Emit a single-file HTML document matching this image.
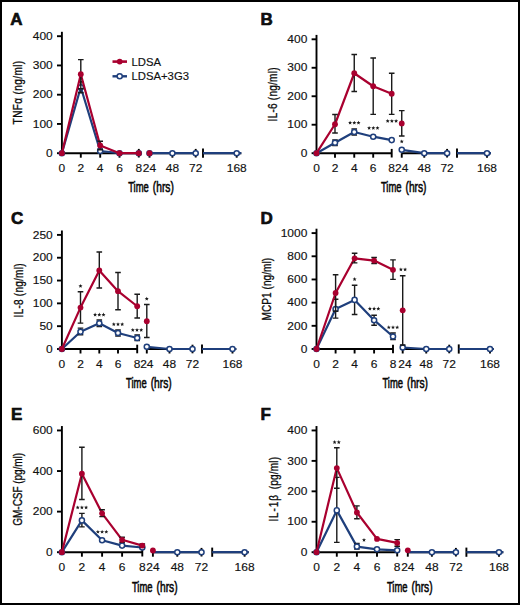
<!DOCTYPE html>
<html><head><meta charset="utf-8"><style>
html,body{margin:0;padding:0;background:#fff;}
svg{display:block;}
text{font-family:"Liberation Sans",sans-serif;fill:#111;}
.let{font-size:17px;font-weight:bold;stroke:#000;stroke-width:0.6px;}
.tk{font-size:11.2px;stroke:#111;stroke-width:0.15px;}
.lab{font-size:13.8px;stroke:#000;stroke-width:0.55px;}
.ylab{font-size:13.6px;stroke:#000;stroke-width:0.3px;}
.leg{font-size:11.3px;stroke:#111;stroke-width:0.15px;}
.ax{stroke:#000;stroke-width:1.9;}
.eb{stroke:#1a1a1a;stroke-width:1.4;fill:none;}
</style></head><body>
<svg width="520" height="605" viewBox="0 0 520 605">
<rect x="1" y="1" width="518" height="603" fill="#fff" stroke="#000" stroke-width="2"/>
<text x="10.3" y="25" class="let">A</text>
<line x1="61.9" y1="31.8" x2="61.9" y2="154.1" class="ax"/>
<line x1="57" y1="153.2" x2="61.9" y2="153.2" class="ax"/>
<text x="0" y="0" class="tk" text-anchor="end" transform="translate(52.7,156.9) scale(1.07,1)">0</text>
<line x1="57" y1="123.95" x2="61.9" y2="123.95" class="ax"/>
<text x="0" y="0" class="tk" text-anchor="end" transform="translate(52.7,127.65) scale(1.07,1)">100</text>
<line x1="57" y1="94.7" x2="61.9" y2="94.7" class="ax"/>
<text x="0" y="0" class="tk" text-anchor="end" transform="translate(52.7,98.4) scale(1.07,1)">200</text>
<line x1="57" y1="65.45" x2="61.9" y2="65.45" class="ax"/>
<text x="0" y="0" class="tk" text-anchor="end" transform="translate(52.7,69.15) scale(1.07,1)">300</text>
<line x1="57" y1="36.2" x2="61.9" y2="36.2" class="ax"/>
<text x="0" y="0" class="tk" text-anchor="end" transform="translate(52.7,39.9) scale(1.07,1)">400</text>
<line x1="61.2" y1="153.2" x2="138.8" y2="153.2" class="ax"/>
<line x1="138.8" y1="148.9" x2="138.8" y2="157.5" class="ax"/>
<line x1="149.5" y1="153.2" x2="195.7" y2="153.2" class="ax"/>
<line x1="195.7" y1="148.9" x2="195.7" y2="157.5" class="ax"/>
<line x1="203" y1="153.2" x2="241.3" y2="153.2" class="ax"/>
<line x1="203" y1="148.6" x2="203" y2="157.8" class="ax"/>
<line x1="80.8" y1="153.2" x2="80.8" y2="157.7" class="ax"/>
<line x1="100.2" y1="153.2" x2="100.2" y2="157.7" class="ax"/>
<line x1="119.5" y1="153.2" x2="119.5" y2="157.7" class="ax"/>
<line x1="149.5" y1="153.2" x2="149.5" y2="157.7" class="ax"/>
<line x1="172.4" y1="153.2" x2="172.4" y2="157.7" class="ax"/>
<line x1="236.7" y1="153.2" x2="236.7" y2="157.7" class="ax"/>
<text class="tk" text-anchor="middle" transform="translate(61.9,172.4) scale(1.07,1)">0</text>
<text class="tk" text-anchor="middle" transform="translate(80.8,172.4) scale(1.07,1)">2</text>
<text class="tk" text-anchor="middle" transform="translate(100.2,172.4) scale(1.07,1)">4</text>
<text class="tk" text-anchor="middle" transform="translate(119.5,172.4) scale(1.07,1)">6</text>
<text class="tk" text-anchor="middle" transform="translate(138.8,172.4) scale(1.07,1)">8</text>
<text class="tk" text-anchor="middle" transform="translate(149.5,172.4) scale(1.07,1)">24</text>
<text class="tk" text-anchor="middle" transform="translate(172.4,172.4) scale(1.07,1)">48</text>
<text class="tk" text-anchor="middle" transform="translate(195.7,172.4) scale(1.07,1)">72</text>
<text class="tk" text-anchor="middle" transform="translate(236.7,172.4) scale(1.07,1)">168</text>
<text class="lab" x="128.2" y="191.85" textLength="20.6" lengthAdjust="spacingAndGlyphs">Time</text>
<text class="lab" x="152.8" y="191.85" textLength="21" lengthAdjust="spacingAndGlyphs">(hrs)</text>
<text class="ylab" x="0" y="0" text-anchor="middle" textLength="85.81" lengthAdjust="spacing" transform="translate(21.9,92.65) rotate(-90) scale(0.74,1)">TNFα (ng/ml)</text>
<polyline points="61.9,153.2 80.8,87.3 100.2,151 119.5,153.2 138.8,153.2" fill="none" stroke="#1f3f7c" stroke-width="2.2" stroke-linejoin="round"/>
<path d="M80.8 81.8V92.8M78 81.8H83.6M78 92.8H83.6" class="eb"/>
<path d="M100.2 149V153M97.4 149H103M97.4 153H103" class="eb"/>
<circle cx="61.9" cy="153.2" r="2.55" fill="#fff" stroke="#1f3f7c" stroke-width="1.5"/>
<circle cx="80.8" cy="87.3" r="2.55" fill="#fff" stroke="#1f3f7c" stroke-width="1.5"/>
<circle cx="100.2" cy="151" r="2.55" fill="#fff" stroke="#1f3f7c" stroke-width="1.5"/>
<circle cx="119.5" cy="153.2" r="2.55" fill="#fff" stroke="#1f3f7c" stroke-width="1.5"/>
<circle cx="138.8" cy="153.2" r="2.55" fill="#fff" stroke="#1f3f7c" stroke-width="1.5"/>
<polyline points="61.9,153.2 80.8,74.2 100.2,145.5 119.5,153.2 138.8,153.2" fill="none" stroke="#a9002f" stroke-width="2.2" stroke-linejoin="round"/>
<path d="M80.8 59.6V88.8M78 59.6H83.6M78 88.8H83.6" class="eb"/>
<path d="M100.2 141.3V149.7M97.4 141.3H103M97.4 149.7H103" class="eb"/>
<circle cx="61.9" cy="153.2" r="2.9" fill="#a9002f"/>
<circle cx="80.8" cy="74.2" r="2.9" fill="#a9002f"/>
<circle cx="100.2" cy="145.5" r="2.9" fill="#a9002f"/>
<circle cx="119.5" cy="153.2" r="2.9" fill="#a9002f"/>
<circle cx="138.8" cy="153.2" r="2.9" fill="#a9002f"/>
<polyline points="149.5,153.2 172.4,153.2 195.7,153.2" fill="none" stroke="#1f3f7c" stroke-width="2.2" stroke-linejoin="round"/>
<circle cx="149.5" cy="153.2" r="2.55" fill="#fff" stroke="#1f3f7c" stroke-width="1.5"/>
<circle cx="172.4" cy="153.2" r="2.55" fill="#fff" stroke="#1f3f7c" stroke-width="1.5"/>
<circle cx="195.7" cy="153.2" r="2.55" fill="#fff" stroke="#1f3f7c" stroke-width="1.5"/>
<circle cx="149.5" cy="153.2" r="2.9" fill="#a9002f"/>
<polyline points="203,153.2 241.3,153.2" fill="none" stroke="#1f3f7c" stroke-width="2.2"/>
<circle cx="236.7" cy="153.2" r="2.55" fill="#fff" stroke="#1f3f7c" stroke-width="1.5"/>
<line x1="112.5" y1="61.6" x2="127" y2="61.6" stroke="#a9002f" stroke-width="2.6"/>
<circle cx="119.7" cy="61.6" r="2.9" fill="#a9002f"/>
<line x1="112.5" y1="76.3" x2="127" y2="76.3" stroke="#1f3f7c" stroke-width="2.4"/>
<circle cx="119.7" cy="76.3" r="2.55" fill="#fff" stroke="#1f3f7c" stroke-width="1.5"/>
<text x="131.5" y="65.6" class="leg">LDSA</text>
<text x="131.5" y="80.3" class="leg">LDSA+3G3</text>
<text x="260.5" y="25" class="let">B</text>
<line x1="316.5" y1="34.9" x2="316.5" y2="154.1" class="ax"/>
<line x1="311.6" y1="153.2" x2="316.5" y2="153.2" class="ax"/>
<text x="0" y="0" class="tk" text-anchor="end" transform="translate(307.3,156.9) scale(1.07,1)">0</text>
<line x1="311.6" y1="124.72" x2="316.5" y2="124.72" class="ax"/>
<text x="0" y="0" class="tk" text-anchor="end" transform="translate(307.3,128.42) scale(1.07,1)">100</text>
<line x1="311.6" y1="96.25" x2="316.5" y2="96.25" class="ax"/>
<text x="0" y="0" class="tk" text-anchor="end" transform="translate(307.3,99.95) scale(1.07,1)">200</text>
<line x1="311.6" y1="67.77" x2="316.5" y2="67.77" class="ax"/>
<text x="0" y="0" class="tk" text-anchor="end" transform="translate(307.3,71.47) scale(1.07,1)">300</text>
<line x1="311.6" y1="39.3" x2="316.5" y2="39.3" class="ax"/>
<text x="0" y="0" class="tk" text-anchor="end" transform="translate(307.3,43) scale(1.07,1)">400</text>
<line x1="315.8" y1="153.2" x2="391.7" y2="153.2" class="ax"/>
<line x1="391.7" y1="148.9" x2="391.7" y2="157.5" class="ax"/>
<line x1="401.75" y1="153.2" x2="447.1" y2="153.2" class="ax"/>
<line x1="447.1" y1="148.9" x2="447.1" y2="157.5" class="ax"/>
<line x1="457" y1="153.2" x2="491" y2="153.2" class="ax"/>
<line x1="457" y1="148.6" x2="457" y2="157.8" class="ax"/>
<line x1="335" y1="153.2" x2="335" y2="157.7" class="ax"/>
<line x1="354.25" y1="153.2" x2="354.25" y2="157.7" class="ax"/>
<line x1="373.2" y1="153.2" x2="373.2" y2="157.7" class="ax"/>
<line x1="401.75" y1="153.2" x2="401.75" y2="157.7" class="ax"/>
<line x1="424.25" y1="153.2" x2="424.25" y2="157.7" class="ax"/>
<line x1="487" y1="153.2" x2="487" y2="157.7" class="ax"/>
<text class="tk" text-anchor="middle" transform="translate(316.5,172.4) scale(1.07,1)">0</text>
<text class="tk" text-anchor="middle" transform="translate(335,172.4) scale(1.07,1)">2</text>
<text class="tk" text-anchor="middle" transform="translate(354.25,172.4) scale(1.07,1)">4</text>
<text class="tk" text-anchor="middle" transform="translate(373.2,172.4) scale(1.07,1)">6</text>
<text class="tk" text-anchor="middle" transform="translate(391.7,172.4) scale(1.07,1)">8</text>
<text class="tk" text-anchor="middle" transform="translate(401.75,172.4) scale(1.07,1)">24</text>
<text class="tk" text-anchor="middle" transform="translate(424.25,172.4) scale(1.07,1)">48</text>
<text class="tk" text-anchor="middle" transform="translate(447.1,172.4) scale(1.07,1)">72</text>
<text class="tk" text-anchor="middle" transform="translate(487,172.4) scale(1.07,1)">168</text>
<text class="lab" x="380.9" y="192.3" textLength="20.6" lengthAdjust="spacingAndGlyphs">Time</text>
<text class="lab" x="405.5" y="192.3" textLength="21" lengthAdjust="spacingAndGlyphs">(hrs)</text>
<text class="ylab" x="0" y="0" text-anchor="middle" textLength="72.84" lengthAdjust="spacing" transform="translate(277,94.45) rotate(-90) scale(0.74,1)">IL-6 (ng/ml)</text>
<polyline points="316.5,153.2 335,142.75 354.25,132 373.2,136.7 391.7,140.1" fill="none" stroke="#1f3f7c" stroke-width="2.2" stroke-linejoin="round"/>
<path d="M335 140V145.5M332.2 140H337.8M332.2 145.5H337.8" class="eb"/>
<path d="M354.25 129V135M351.45 129H357.05M351.45 135H357.05" class="eb"/>
<circle cx="316.5" cy="153.2" r="2.55" fill="#fff" stroke="#1f3f7c" stroke-width="1.5"/>
<circle cx="335" cy="142.75" r="2.55" fill="#fff" stroke="#1f3f7c" stroke-width="1.5"/>
<circle cx="354.25" cy="132" r="2.55" fill="#fff" stroke="#1f3f7c" stroke-width="1.5"/>
<circle cx="373.2" cy="136.7" r="2.55" fill="#fff" stroke="#1f3f7c" stroke-width="1.5"/>
<circle cx="391.7" cy="140.1" r="2.55" fill="#fff" stroke="#1f3f7c" stroke-width="1.5"/>
<polyline points="316.5,153.2 335,124.25 354.25,73.25 373.2,86.25 391.7,93.75" fill="none" stroke="#a9002f" stroke-width="2.2" stroke-linejoin="round"/>
<path d="M335 114.5V133M332.2 114.5H337.8M332.2 133H337.8" class="eb"/>
<path d="M354.25 54.5V91.5M351.45 54.5H357.05M351.45 91.5H357.05" class="eb"/>
<path d="M373.2 58V114.4M370.4 58H376M370.4 114.4H376" class="eb"/>
<path d="M391.7 73.25V114.4M388.9 73.25H394.5M388.9 114.4H394.5" class="eb"/>
<circle cx="316.5" cy="153.2" r="2.9" fill="#a9002f"/>
<circle cx="335" cy="124.25" r="2.9" fill="#a9002f"/>
<circle cx="354.25" cy="73.25" r="2.9" fill="#a9002f"/>
<circle cx="373.2" cy="86.25" r="2.9" fill="#a9002f"/>
<circle cx="391.7" cy="93.75" r="2.9" fill="#a9002f"/>
<polyline points="401.75,149.8 424.25,153.2 447.1,153.2" fill="none" stroke="#1f3f7c" stroke-width="2.2" stroke-linejoin="round"/>
<circle cx="401.75" cy="149.8" r="2.55" fill="#fff" stroke="#1f3f7c" stroke-width="1.5"/>
<circle cx="424.25" cy="153.2" r="2.55" fill="#fff" stroke="#1f3f7c" stroke-width="1.5"/>
<circle cx="447.1" cy="153.2" r="2.55" fill="#fff" stroke="#1f3f7c" stroke-width="1.5"/>
<path d="M401.75 110.6V136M398.95 110.6H404.55M398.95 136H404.55" class="eb"/>
<circle cx="401.75" cy="123.4" r="2.9" fill="#a9002f"/>
<polyline points="457,153.2 491,153.2" fill="none" stroke="#1f3f7c" stroke-width="2.2"/>
<circle cx="487" cy="153.2" r="2.55" fill="#fff" stroke="#1f3f7c" stroke-width="1.5"/>
<polygon points="350.1,120.65 350.66,121.99 352.1,122.1 351,123.04 351.33,124.45 350.1,123.69 348.87,124.45 349.2,123.04 348.1,122.1 349.54,121.99" fill="#1a1a1a"/>
<polygon points="354.3,120.65 354.86,121.99 356.3,122.1 355.2,123.04 355.53,124.45 354.3,123.69 353.07,124.45 353.4,123.04 352.3,122.1 353.74,121.99" fill="#1a1a1a"/>
<polygon points="358.5,120.65 359.06,121.99 360.5,122.1 359.4,123.04 359.73,124.45 358.5,123.69 357.27,124.45 357.6,123.04 356.5,122.1 357.94,121.99" fill="#1a1a1a"/>
<polygon points="369.1,125.9 369.66,127.24 371.1,127.35 370,128.29 370.33,129.7 369.1,128.94 367.87,129.7 368.2,128.29 367.1,127.35 368.54,127.24" fill="#1a1a1a"/>
<polygon points="373.3,125.9 373.86,127.24 375.3,127.35 374.2,128.29 374.53,129.7 373.3,128.94 372.07,129.7 372.4,128.29 371.3,127.35 372.74,127.24" fill="#1a1a1a"/>
<polygon points="377.5,125.9 378.06,127.24 379.5,127.35 378.4,128.29 378.73,129.7 377.5,128.94 376.27,129.7 376.6,128.29 375.5,127.35 376.94,127.24" fill="#1a1a1a"/>
<polygon points="387.7,119 388.26,120.34 389.7,120.45 388.6,121.39 388.93,122.8 387.7,122.04 386.47,122.8 386.8,121.39 385.7,120.45 387.14,120.34" fill="#1a1a1a"/>
<polygon points="391.9,119 392.46,120.34 393.9,120.45 392.8,121.39 393.13,122.8 391.9,122.04 390.67,122.8 391,121.39 389.9,120.45 391.34,120.34" fill="#1a1a1a"/>
<polygon points="396.1,119 396.66,120.34 398.1,120.45 397,121.39 397.33,122.8 396.1,122.04 394.87,122.8 395.2,121.39 394.1,120.45 395.54,120.34" fill="#1a1a1a"/>
<polygon points="401.75,139.4 402.31,140.74 403.75,140.85 402.65,141.79 402.98,143.2 401.75,142.44 400.52,143.2 400.85,141.79 399.75,140.85 401.19,140.74" fill="#1a1a1a"/>
<text x="11" y="224.3" class="let">C</text>
<line x1="61.9" y1="230.5" x2="61.9" y2="349.9" class="ax"/>
<line x1="57" y1="349" x2="61.9" y2="349" class="ax"/>
<text x="0" y="0" class="tk" text-anchor="end" transform="translate(52.7,352.7) scale(1.07,1)">0</text>
<line x1="57" y1="326.18" x2="61.9" y2="326.18" class="ax"/>
<text x="0" y="0" class="tk" text-anchor="end" transform="translate(52.7,329.88) scale(1.07,1)">50</text>
<line x1="57" y1="303.36" x2="61.9" y2="303.36" class="ax"/>
<text x="0" y="0" class="tk" text-anchor="end" transform="translate(52.7,307.06) scale(1.07,1)">100</text>
<line x1="57" y1="280.54" x2="61.9" y2="280.54" class="ax"/>
<text x="0" y="0" class="tk" text-anchor="end" transform="translate(52.7,284.24) scale(1.07,1)">150</text>
<line x1="57" y1="257.72" x2="61.9" y2="257.72" class="ax"/>
<text x="0" y="0" class="tk" text-anchor="end" transform="translate(52.7,261.42) scale(1.07,1)">200</text>
<line x1="57" y1="234.9" x2="61.9" y2="234.9" class="ax"/>
<text x="0" y="0" class="tk" text-anchor="end" transform="translate(52.7,238.6) scale(1.07,1)">250</text>
<line x1="61.2" y1="349" x2="137.2" y2="349" class="ax"/>
<line x1="137.2" y1="344.7" x2="137.2" y2="353.3" class="ax"/>
<line x1="146.8" y1="349" x2="192.5" y2="349" class="ax"/>
<line x1="192.5" y1="344.7" x2="192.5" y2="353.3" class="ax"/>
<line x1="202" y1="349" x2="236.3" y2="349" class="ax"/>
<line x1="202" y1="344.4" x2="202" y2="353.6" class="ax"/>
<line x1="80.5" y1="349" x2="80.5" y2="353.5" class="ax"/>
<line x1="99.3" y1="349" x2="99.3" y2="353.5" class="ax"/>
<line x1="118" y1="349" x2="118" y2="353.5" class="ax"/>
<line x1="146.8" y1="349" x2="146.8" y2="353.5" class="ax"/>
<line x1="169.5" y1="349" x2="169.5" y2="353.5" class="ax"/>
<line x1="232.5" y1="349" x2="232.5" y2="353.5" class="ax"/>
<text class="tk" text-anchor="middle" transform="translate(61.9,368.2) scale(1.07,1)">0</text>
<text class="tk" text-anchor="middle" transform="translate(80.5,368.2) scale(1.07,1)">2</text>
<text class="tk" text-anchor="middle" transform="translate(99.3,368.2) scale(1.07,1)">4</text>
<text class="tk" text-anchor="middle" transform="translate(118,368.2) scale(1.07,1)">6</text>
<text class="tk" text-anchor="middle" transform="translate(137.2,368.2) scale(1.07,1)">8</text>
<text class="tk" text-anchor="middle" transform="translate(146.8,368.2) scale(1.07,1)">24</text>
<text class="tk" text-anchor="middle" transform="translate(169.5,368.2) scale(1.07,1)">48</text>
<text class="tk" text-anchor="middle" transform="translate(192.5,368.2) scale(1.07,1)">72</text>
<text class="tk" text-anchor="middle" transform="translate(232.5,368.2) scale(1.07,1)">168</text>
<text class="lab" x="126.05" y="387.9" textLength="20.6" lengthAdjust="spacingAndGlyphs">Time</text>
<text class="lab" x="150.65" y="387.9" textLength="21" lengthAdjust="spacingAndGlyphs">(hrs)</text>
<text class="ylab" x="0" y="0" text-anchor="middle" textLength="72.84" lengthAdjust="spacing" transform="translate(22.5,290.45) rotate(-90) scale(0.74,1)">IL-8 (ng/ml)</text>
<polyline points="61.9,349 80.5,331.7 99.3,323.2 118,333 137.2,338" fill="none" stroke="#1f3f7c" stroke-width="2.2" stroke-linejoin="round"/>
<path d="M80.5 328.1V334.7M77.7 328.1H83.3M77.7 334.7H83.3" class="eb"/>
<path d="M99.3 320V326.5M96.5 320H102.1M96.5 326.5H102.1" class="eb"/>
<path d="M118 330V336M115.2 330H120.8M115.2 336H120.8" class="eb"/>
<path d="M137.2 335V340.5M134.4 335H140M134.4 340.5H140" class="eb"/>
<circle cx="61.9" cy="349" r="2.55" fill="#fff" stroke="#1f3f7c" stroke-width="1.5"/>
<circle cx="80.5" cy="331.7" r="2.55" fill="#fff" stroke="#1f3f7c" stroke-width="1.5"/>
<circle cx="99.3" cy="323.2" r="2.55" fill="#fff" stroke="#1f3f7c" stroke-width="1.5"/>
<circle cx="118" cy="333" r="2.55" fill="#fff" stroke="#1f3f7c" stroke-width="1.5"/>
<circle cx="137.2" cy="338" r="2.55" fill="#fff" stroke="#1f3f7c" stroke-width="1.5"/>
<polyline points="61.9,349 80.5,307.6 99.3,270.5 118,291.2 137.2,306.25" fill="none" stroke="#a9002f" stroke-width="2.2" stroke-linejoin="round"/>
<path d="M80.5 291.8V323.1M77.7 291.8H83.3M77.7 323.1H83.3" class="eb"/>
<path d="M99.3 252V288M96.5 252H102.1M96.5 288H102.1" class="eb"/>
<path d="M118 272.5V309.7M115.2 272.5H120.8M115.2 309.7H120.8" class="eb"/>
<path d="M137.2 294.25V318M134.4 294.25H140M134.4 318H140" class="eb"/>
<circle cx="61.9" cy="349" r="2.9" fill="#a9002f"/>
<circle cx="80.5" cy="307.6" r="2.9" fill="#a9002f"/>
<circle cx="99.3" cy="270.5" r="2.9" fill="#a9002f"/>
<circle cx="118" cy="291.2" r="2.9" fill="#a9002f"/>
<circle cx="137.2" cy="306.25" r="2.9" fill="#a9002f"/>
<polyline points="146.8,346.8 169.5,349 192.5,349" fill="none" stroke="#1f3f7c" stroke-width="2.2" stroke-linejoin="round"/>
<circle cx="146.8" cy="346.8" r="2.55" fill="#fff" stroke="#1f3f7c" stroke-width="1.5"/>
<circle cx="169.5" cy="349" r="2.55" fill="#fff" stroke="#1f3f7c" stroke-width="1.5"/>
<circle cx="192.5" cy="349" r="2.55" fill="#fff" stroke="#1f3f7c" stroke-width="1.5"/>
<path d="M146.8 304.5V337.5M144 304.5H149.6M144 337.5H149.6" class="eb"/>
<circle cx="146.8" cy="321.25" r="2.9" fill="#a9002f"/>
<polyline points="202,349 236.3,349" fill="none" stroke="#1f3f7c" stroke-width="2.2"/>
<circle cx="232.5" cy="349" r="2.55" fill="#fff" stroke="#1f3f7c" stroke-width="1.5"/>
<polygon points="80.5,284 81.06,285.34 82.5,285.45 81.4,286.39 81.73,287.8 80.5,287.05 79.27,287.8 79.6,286.39 78.5,285.45 79.94,285.34" fill="#1a1a1a"/>
<polygon points="95.1,312.6 95.66,313.94 97.1,314.05 96,314.99 96.33,316.4 95.1,315.64 93.87,316.4 94.2,314.99 93.1,314.05 94.54,313.94" fill="#1a1a1a"/>
<polygon points="99.3,312.6 99.86,313.94 101.3,314.05 100.2,314.99 100.53,316.4 99.3,315.64 98.07,316.4 98.4,314.99 97.3,314.05 98.74,313.94" fill="#1a1a1a"/>
<polygon points="103.5,312.6 104.06,313.94 105.5,314.05 104.4,314.99 104.73,316.4 103.5,315.64 102.27,316.4 102.6,314.99 101.5,314.05 102.94,313.94" fill="#1a1a1a"/>
<polygon points="113.8,322.2 114.36,323.54 115.8,323.65 114.7,324.59 115.03,326 113.8,325.25 112.57,326 112.9,324.59 111.8,323.65 113.24,323.54" fill="#1a1a1a"/>
<polygon points="118,322.2 118.56,323.54 120,323.65 118.9,324.59 119.23,326 118,325.25 116.77,326 117.1,324.59 116,323.65 117.44,323.54" fill="#1a1a1a"/>
<polygon points="122.2,322.2 122.76,323.54 124.2,323.65 123.1,324.59 123.43,326 122.2,325.25 120.97,326 121.3,324.59 120.2,323.65 121.64,323.54" fill="#1a1a1a"/>
<polygon points="132.8,327.9 133.36,329.24 134.8,329.35 133.7,330.29 134.03,331.7 132.8,330.94 131.57,331.7 131.9,330.29 130.8,329.35 132.24,329.24" fill="#1a1a1a"/>
<polygon points="137,327.9 137.56,329.24 139,329.35 137.9,330.29 138.23,331.7 137,330.94 135.77,331.7 136.1,330.29 135,329.35 136.44,329.24" fill="#1a1a1a"/>
<polygon points="141.2,327.9 141.76,329.24 143.2,329.35 142.1,330.29 142.43,331.7 141.2,330.94 139.97,331.7 140.3,330.29 139.2,329.35 140.64,329.24" fill="#1a1a1a"/>
<polygon points="146.75,296.65 147.31,297.99 148.75,298.1 147.65,299.04 147.98,300.45 146.75,299.69 145.52,300.45 145.85,299.04 144.75,298.1 146.19,297.99" fill="#1a1a1a"/>
<text x="260.5" y="224.3" class="let">D</text>
<line x1="316.5" y1="228.7" x2="316.5" y2="349.9" class="ax"/>
<line x1="311.6" y1="349" x2="316.5" y2="349" class="ax"/>
<text x="0" y="0" class="tk" text-anchor="end" transform="translate(307.3,352.7) scale(1.07,1)">0</text>
<line x1="311.6" y1="325.82" x2="316.5" y2="325.82" class="ax"/>
<text x="0" y="0" class="tk" text-anchor="end" transform="translate(307.3,329.52) scale(1.07,1)">200</text>
<line x1="311.6" y1="302.64" x2="316.5" y2="302.64" class="ax"/>
<text x="0" y="0" class="tk" text-anchor="end" transform="translate(307.3,306.34) scale(1.07,1)">400</text>
<line x1="311.6" y1="279.46" x2="316.5" y2="279.46" class="ax"/>
<text x="0" y="0" class="tk" text-anchor="end" transform="translate(307.3,283.16) scale(1.07,1)">600</text>
<line x1="311.6" y1="256.28" x2="316.5" y2="256.28" class="ax"/>
<text x="0" y="0" class="tk" text-anchor="end" transform="translate(307.3,259.98) scale(1.07,1)">800</text>
<line x1="311.6" y1="233.1" x2="316.5" y2="233.1" class="ax"/>
<text x="0" y="0" class="tk" text-anchor="end" transform="translate(307.3,236.8) scale(1.07,1)">1000</text>
<line x1="315.8" y1="349" x2="393" y2="349" class="ax"/>
<line x1="393" y1="344.7" x2="393" y2="353.3" class="ax"/>
<line x1="402.7" y1="349" x2="449.25" y2="349" class="ax"/>
<line x1="449.25" y1="344.7" x2="449.25" y2="353.3" class="ax"/>
<line x1="458.75" y1="349" x2="493.75" y2="349" class="ax"/>
<line x1="458.75" y1="344.4" x2="458.75" y2="353.6" class="ax"/>
<line x1="335.6" y1="349" x2="335.6" y2="353.5" class="ax"/>
<line x1="354.6" y1="349" x2="354.6" y2="353.5" class="ax"/>
<line x1="374.1" y1="349" x2="374.1" y2="353.5" class="ax"/>
<line x1="402.7" y1="349" x2="402.7" y2="353.5" class="ax"/>
<line x1="426.25" y1="349" x2="426.25" y2="353.5" class="ax"/>
<line x1="490" y1="349" x2="490" y2="353.5" class="ax"/>
<text class="tk" text-anchor="middle" transform="translate(316.5,368.2) scale(1.07,1)">0</text>
<text class="tk" text-anchor="middle" transform="translate(335.6,368.2) scale(1.07,1)">2</text>
<text class="tk" text-anchor="middle" transform="translate(354.6,368.2) scale(1.07,1)">4</text>
<text class="tk" text-anchor="middle" transform="translate(374.1,368.2) scale(1.07,1)">6</text>
<text class="tk" text-anchor="middle" transform="translate(393,368.2) scale(1.07,1)">8</text>
<text class="tk" text-anchor="middle" transform="translate(405,368.2) scale(1.07,1)">24</text>
<text class="tk" text-anchor="middle" transform="translate(426.25,368.2) scale(1.07,1)">48</text>
<text class="tk" text-anchor="middle" transform="translate(449.25,368.2) scale(1.07,1)">72</text>
<text class="tk" text-anchor="middle" transform="translate(490,368.2) scale(1.07,1)">168</text>
<text class="lab" x="382.4" y="387.9" textLength="20.6" lengthAdjust="spacingAndGlyphs">Time</text>
<text class="lab" x="407" y="387.9" textLength="21" lengthAdjust="spacingAndGlyphs">(hrs)</text>
<text class="ylab" x="0" y="0" text-anchor="middle" textLength="84.32" lengthAdjust="spacing" transform="translate(270.9,289.2) rotate(-90) scale(0.74,1)">MCP1 (ng/ml)</text>
<polyline points="316.5,349 335.6,309 354.6,299.9 374.1,320.2 393,336.5" fill="none" stroke="#1f3f7c" stroke-width="2.2" stroke-linejoin="round"/>
<path d="M335.6 299.3V318.1M332.8 299.3H338.4M332.8 318.1H338.4" class="eb"/>
<path d="M354.6 285.2V314.5M351.8 285.2H357.4M351.8 314.5H357.4" class="eb"/>
<path d="M374.1 315.3V325.2M371.3 315.3H376.9M371.3 325.2H376.9" class="eb"/>
<path d="M393 333V339.5M390.2 333H395.8M390.2 339.5H395.8" class="eb"/>
<circle cx="316.5" cy="349" r="2.55" fill="#fff" stroke="#1f3f7c" stroke-width="1.5"/>
<circle cx="335.6" cy="309" r="2.55" fill="#fff" stroke="#1f3f7c" stroke-width="1.5"/>
<circle cx="354.6" cy="299.9" r="2.55" fill="#fff" stroke="#1f3f7c" stroke-width="1.5"/>
<circle cx="374.1" cy="320.2" r="2.55" fill="#fff" stroke="#1f3f7c" stroke-width="1.5"/>
<circle cx="393" cy="336.5" r="2.55" fill="#fff" stroke="#1f3f7c" stroke-width="1.5"/>
<polyline points="316.5,349 335.6,293 354.6,258.3 374.1,260.6 393,269.8" fill="none" stroke="#a9002f" stroke-width="2.2" stroke-linejoin="round"/>
<path d="M335.6 274.8V311.2M332.8 274.8H338.4M332.8 311.2H338.4" class="eb"/>
<path d="M354.6 253.3V262.9M351.8 253.3H357.4M351.8 262.9H357.4" class="eb"/>
<path d="M374.1 257.5V263.5M371.3 257.5H376.9M371.3 263.5H376.9" class="eb"/>
<path d="M393 259.9V279.4M390.2 259.9H395.8M390.2 279.4H395.8" class="eb"/>
<circle cx="316.5" cy="349" r="2.9" fill="#a9002f"/>
<circle cx="335.6" cy="293" r="2.9" fill="#a9002f"/>
<circle cx="354.6" cy="258.3" r="2.9" fill="#a9002f"/>
<circle cx="374.1" cy="260.6" r="2.9" fill="#a9002f"/>
<circle cx="393" cy="269.8" r="2.9" fill="#a9002f"/>
<polyline points="402.7,347.5 426.25,349 449.25,349" fill="none" stroke="#1f3f7c" stroke-width="2.2" stroke-linejoin="round"/>
<circle cx="402.7" cy="347.5" r="2.55" fill="#fff" stroke="#1f3f7c" stroke-width="1.5"/>
<circle cx="426.25" cy="349" r="2.55" fill="#fff" stroke="#1f3f7c" stroke-width="1.5"/>
<circle cx="449.25" cy="349" r="2.55" fill="#fff" stroke="#1f3f7c" stroke-width="1.5"/>
<path d="M402.7 275.75V345M399.9 275.75H405.5M399.9 345H405.5" class="eb"/>
<circle cx="402.7" cy="310.3" r="2.9" fill="#a9002f"/>
<polyline points="458.75,349 493.75,349" fill="none" stroke="#1f3f7c" stroke-width="2.2"/>
<circle cx="490" cy="349" r="2.55" fill="#fff" stroke="#1f3f7c" stroke-width="1.5"/>
<polygon points="354.6,277.1 355.16,278.44 356.6,278.55 355.5,279.49 355.83,280.9 354.6,280.14 353.37,280.9 353.7,279.49 352.6,278.55 354.04,278.44" fill="#1a1a1a"/>
<polygon points="369.9,306.6 370.46,307.94 371.9,308.05 370.8,308.99 371.13,310.4 369.9,309.64 368.67,310.4 369,308.99 367.9,308.05 369.34,307.94" fill="#1a1a1a"/>
<polygon points="374.1,306.6 374.66,307.94 376.1,308.05 375,308.99 375.33,310.4 374.1,309.64 372.87,310.4 373.2,308.99 372.1,308.05 373.54,307.94" fill="#1a1a1a"/>
<polygon points="378.3,306.6 378.86,307.94 380.3,308.05 379.2,308.99 379.53,310.4 378.3,309.64 377.07,310.4 377.4,308.99 376.3,308.05 377.74,307.94" fill="#1a1a1a"/>
<polygon points="388.8,325.3 389.36,326.64 390.8,326.75 389.7,327.69 390.03,329.1 388.8,328.34 387.57,329.1 387.9,327.69 386.8,326.75 388.24,326.64" fill="#1a1a1a"/>
<polygon points="393,325.3 393.56,326.64 395,326.75 393.9,327.69 394.23,329.1 393,328.34 391.77,329.1 392.1,327.69 391,326.75 392.44,326.64" fill="#1a1a1a"/>
<polygon points="397.2,325.3 397.76,326.64 399.2,326.75 398.1,327.69 398.43,329.1 397.2,328.34 395.97,329.1 396.3,327.69 395.2,326.75 396.64,326.64" fill="#1a1a1a"/>
<polygon points="400.9,267.4 401.46,268.74 402.9,268.85 401.8,269.79 402.13,271.2 400.9,270.44 399.67,271.2 400,269.79 398.9,268.85 400.34,268.74" fill="#1a1a1a"/>
<polygon points="405.1,267.4 405.66,268.74 407.1,268.85 406,269.79 406.33,271.2 405.1,270.44 403.87,271.2 404.2,269.79 403.1,268.85 404.54,268.74" fill="#1a1a1a"/>
<text x="11" y="419.5" class="let">E</text>
<line x1="61.9" y1="426.05" x2="61.9" y2="553.1" class="ax"/>
<line x1="57" y1="552.2" x2="61.9" y2="552.2" class="ax"/>
<text x="0" y="0" class="tk" text-anchor="end" transform="translate(52.7,555.9) scale(1.07,1)">0</text>
<line x1="57" y1="511.62" x2="61.9" y2="511.62" class="ax"/>
<text x="0" y="0" class="tk" text-anchor="end" transform="translate(52.7,515.32) scale(1.07,1)">200</text>
<line x1="57" y1="471.03" x2="61.9" y2="471.03" class="ax"/>
<text x="0" y="0" class="tk" text-anchor="end" transform="translate(52.7,474.73) scale(1.07,1)">400</text>
<line x1="57" y1="430.45" x2="61.9" y2="430.45" class="ax"/>
<text x="0" y="0" class="tk" text-anchor="end" transform="translate(52.7,434.15) scale(1.07,1)">600</text>
<line x1="61.2" y1="552.2" x2="142.3" y2="552.2" class="ax"/>
<line x1="142.3" y1="547.9" x2="142.3" y2="556.5" class="ax"/>
<line x1="152.9" y1="552.2" x2="201.5" y2="552.2" class="ax"/>
<line x1="201.5" y1="547.9" x2="201.5" y2="556.5" class="ax"/>
<line x1="212.2" y1="552.2" x2="248.7" y2="552.2" class="ax"/>
<line x1="212.2" y1="547.6" x2="212.2" y2="556.8" class="ax"/>
<line x1="81.9" y1="552.2" x2="81.9" y2="556.7" class="ax"/>
<line x1="102.1" y1="552.2" x2="102.1" y2="556.7" class="ax"/>
<line x1="122.1" y1="552.2" x2="122.1" y2="556.7" class="ax"/>
<line x1="152.9" y1="552.2" x2="152.9" y2="556.7" class="ax"/>
<line x1="177.3" y1="552.2" x2="177.3" y2="556.7" class="ax"/>
<line x1="244.6" y1="552.2" x2="244.6" y2="556.7" class="ax"/>
<text class="tk" text-anchor="middle" transform="translate(61.9,571.4) scale(1.07,1)">0</text>
<text class="tk" text-anchor="middle" transform="translate(81.9,571.4) scale(1.07,1)">2</text>
<text class="tk" text-anchor="middle" transform="translate(102.1,571.4) scale(1.07,1)">4</text>
<text class="tk" text-anchor="middle" transform="translate(122.1,571.4) scale(1.07,1)">6</text>
<text class="tk" text-anchor="middle" transform="translate(142.3,571.4) scale(1.07,1)">8</text>
<text class="tk" text-anchor="middle" transform="translate(152.9,571.4) scale(1.07,1)">24</text>
<text class="tk" text-anchor="middle" transform="translate(177.3,571.4) scale(1.07,1)">48</text>
<text class="tk" text-anchor="middle" transform="translate(201.5,571.4) scale(1.07,1)">72</text>
<text class="tk" text-anchor="middle" transform="translate(244.6,571.4) scale(1.07,1)">168</text>
<text class="lab" x="131.95" y="591.6" textLength="20.6" lengthAdjust="spacingAndGlyphs">Time</text>
<text class="lab" x="156.55" y="591.6" textLength="21" lengthAdjust="spacingAndGlyphs">(hrs)</text>
<text class="ylab" x="0" y="0" text-anchor="middle" textLength="98.38" lengthAdjust="spacing" transform="translate(22.3,489.3) rotate(-90) scale(0.74,1)">GM-CSF (pg/ml)</text>
<polyline points="61.9,552.2 81.9,520.4 102.1,540.2 122.1,545.6 142.3,547.5" fill="none" stroke="#1f3f7c" stroke-width="2.2" stroke-linejoin="round"/>
<path d="M81.9 513.4V526.9M79.1 513.4H84.7M79.1 526.9H84.7" class="eb"/>
<circle cx="61.9" cy="552.2" r="2.55" fill="#fff" stroke="#1f3f7c" stroke-width="1.5"/>
<circle cx="81.9" cy="520.4" r="2.55" fill="#fff" stroke="#1f3f7c" stroke-width="1.5"/>
<circle cx="102.1" cy="540.2" r="2.55" fill="#fff" stroke="#1f3f7c" stroke-width="1.5"/>
<circle cx="122.1" cy="545.6" r="2.55" fill="#fff" stroke="#1f3f7c" stroke-width="1.5"/>
<circle cx="142.3" cy="547.5" r="2.55" fill="#fff" stroke="#1f3f7c" stroke-width="1.5"/>
<polyline points="61.9,552.2 81.9,473.7 102.1,513.3 122.1,539.8 142.3,545.6" fill="none" stroke="#a9002f" stroke-width="2.2" stroke-linejoin="round"/>
<path d="M81.9 447.3V499.5M79.1 447.3H84.7M79.1 499.5H84.7" class="eb"/>
<path d="M102.1 509.8V516.6M99.3 509.8H104.9M99.3 516.6H104.9" class="eb"/>
<path d="M122.1 537.2V542.2M119.3 537.2H124.9M119.3 542.2H124.9" class="eb"/>
<path d="M142.3 544V547.4M139.5 544H145.1M139.5 547.4H145.1" class="eb"/>
<circle cx="61.9" cy="552.2" r="2.9" fill="#a9002f"/>
<circle cx="81.9" cy="473.7" r="2.9" fill="#a9002f"/>
<circle cx="102.1" cy="513.3" r="2.9" fill="#a9002f"/>
<circle cx="122.1" cy="539.8" r="2.9" fill="#a9002f"/>
<circle cx="142.3" cy="545.6" r="2.9" fill="#a9002f"/>
<polyline points="152.9,552.2 177.3,552.2 201.5,552.2" fill="none" stroke="#1f3f7c" stroke-width="2.2" stroke-linejoin="round"/>
<circle cx="177.3" cy="552.2" r="2.55" fill="#fff" stroke="#1f3f7c" stroke-width="1.5"/>
<circle cx="201.5" cy="552.2" r="2.55" fill="#fff" stroke="#1f3f7c" stroke-width="1.5"/>
<circle cx="152.9" cy="550.5" r="2.9" fill="#a9002f"/>
<polyline points="212.2,552.2 248.7,552.2" fill="none" stroke="#1f3f7c" stroke-width="2.2"/>
<circle cx="244.6" cy="552.2" r="2.55" fill="#fff" stroke="#1f3f7c" stroke-width="1.5"/>
<polygon points="77.7,505.4 78.26,506.74 79.7,506.85 78.6,507.79 78.93,509.2 77.7,508.44 76.47,509.2 76.8,507.79 75.7,506.85 77.14,506.74" fill="#1a1a1a"/>
<polygon points="81.9,505.4 82.46,506.74 83.9,506.85 82.8,507.79 83.13,509.2 81.9,508.44 80.67,509.2 81,507.79 79.9,506.85 81.34,506.74" fill="#1a1a1a"/>
<polygon points="86.1,505.4 86.66,506.74 88.1,506.85 87,507.79 87.33,509.2 86.1,508.44 84.87,509.2 85.2,507.79 84.1,506.85 85.54,506.74" fill="#1a1a1a"/>
<polygon points="97.9,529.8 98.46,531.14 99.9,531.25 98.8,532.19 99.13,533.6 97.9,532.85 96.67,533.6 97,532.19 95.9,531.25 97.34,531.14" fill="#1a1a1a"/>
<polygon points="102.1,529.8 102.66,531.14 104.1,531.25 103,532.19 103.33,533.6 102.1,532.85 100.87,533.6 101.2,532.19 100.1,531.25 101.54,531.14" fill="#1a1a1a"/>
<polygon points="106.3,529.8 106.86,531.14 108.3,531.25 107.2,532.19 107.53,533.6 106.3,532.85 105.07,533.6 105.4,532.19 104.3,531.25 105.74,531.14" fill="#1a1a1a"/>
<text x="260.5" y="419.5" class="let">F</text>
<line x1="316.5" y1="426.05" x2="316.5" y2="553.1" class="ax"/>
<line x1="311.6" y1="552.2" x2="316.5" y2="552.2" class="ax"/>
<text x="0" y="0" class="tk" text-anchor="end" transform="translate(307.3,555.9) scale(1.07,1)">0</text>
<line x1="311.6" y1="521.76" x2="316.5" y2="521.76" class="ax"/>
<text x="0" y="0" class="tk" text-anchor="end" transform="translate(307.3,525.46) scale(1.07,1)">100</text>
<line x1="311.6" y1="491.33" x2="316.5" y2="491.33" class="ax"/>
<text x="0" y="0" class="tk" text-anchor="end" transform="translate(307.3,495.03) scale(1.07,1)">200</text>
<line x1="311.6" y1="460.89" x2="316.5" y2="460.89" class="ax"/>
<text x="0" y="0" class="tk" text-anchor="end" transform="translate(307.3,464.59) scale(1.07,1)">300</text>
<line x1="311.6" y1="430.45" x2="316.5" y2="430.45" class="ax"/>
<text x="0" y="0" class="tk" text-anchor="end" transform="translate(307.3,434.15) scale(1.07,1)">400</text>
<line x1="315.8" y1="552.2" x2="397.2" y2="552.2" class="ax"/>
<line x1="397.2" y1="547.9" x2="397.2" y2="556.5" class="ax"/>
<line x1="407.8" y1="552.2" x2="455.9" y2="552.2" class="ax"/>
<line x1="455.9" y1="547.9" x2="455.9" y2="556.5" class="ax"/>
<line x1="466.4" y1="552.2" x2="503.3" y2="552.2" class="ax"/>
<line x1="466.4" y1="547.6" x2="466.4" y2="556.8" class="ax"/>
<line x1="336.8" y1="552.2" x2="336.8" y2="556.7" class="ax"/>
<line x1="356.9" y1="552.2" x2="356.9" y2="556.7" class="ax"/>
<line x1="377" y1="552.2" x2="377" y2="556.7" class="ax"/>
<line x1="407.8" y1="552.2" x2="407.8" y2="556.7" class="ax"/>
<line x1="431.9" y1="552.2" x2="431.9" y2="556.7" class="ax"/>
<line x1="499" y1="552.2" x2="499" y2="556.7" class="ax"/>
<text class="tk" text-anchor="middle" transform="translate(316.5,571.4) scale(1.07,1)">0</text>
<text class="tk" text-anchor="middle" transform="translate(336.8,571.4) scale(1.07,1)">2</text>
<text class="tk" text-anchor="middle" transform="translate(356.9,571.4) scale(1.07,1)">4</text>
<text class="tk" text-anchor="middle" transform="translate(377,571.4) scale(1.07,1)">6</text>
<text class="tk" text-anchor="middle" transform="translate(397.2,571.4) scale(1.07,1)">8</text>
<text class="tk" text-anchor="middle" transform="translate(407.8,571.4) scale(1.07,1)">24</text>
<text class="tk" text-anchor="middle" transform="translate(431.9,571.4) scale(1.07,1)">48</text>
<text class="tk" text-anchor="middle" transform="translate(455.9,571.4) scale(1.07,1)">72</text>
<text class="tk" text-anchor="middle" transform="translate(499,571.4) scale(1.07,1)">168</text>
<text class="lab" x="386.95" y="591.6" textLength="20.6" lengthAdjust="spacingAndGlyphs">Time</text>
<text class="lab" x="411.55" y="591.6" textLength="21" lengthAdjust="spacingAndGlyphs">(hrs)</text>
<text class="ylab" x="0" y="0" text-anchor="middle" textLength="36.08" lengthAdjust="spacing" transform="translate(277.8,508.25) rotate(-90) scale(0.74,1)">IL-1β</text>
<text class="ylab" x="0" y="0" text-anchor="middle" textLength="43.51" lengthAdjust="spacing" transform="translate(277.8,473.1) rotate(-90) scale(0.74,1)">(pg/ml)</text>
<polyline points="316.5,552.2 336.8,510.4 356.9,546.6 377,549.3 397.2,550.3" fill="none" stroke="#1f3f7c" stroke-width="2.2" stroke-linejoin="round"/>
<path d="M336.8 477.4V542.4M334 477.4H339.6M334 542.4H339.6" class="eb"/>
<path d="M356.9 543.5V549M354.1 543.5H359.7M354.1 549H359.7" class="eb"/>
<circle cx="316.5" cy="552.2" r="2.55" fill="#fff" stroke="#1f3f7c" stroke-width="1.5"/>
<circle cx="336.8" cy="510.4" r="2.55" fill="#fff" stroke="#1f3f7c" stroke-width="1.5"/>
<circle cx="356.9" cy="546.6" r="2.55" fill="#fff" stroke="#1f3f7c" stroke-width="1.5"/>
<circle cx="377" cy="549.3" r="2.55" fill="#fff" stroke="#1f3f7c" stroke-width="1.5"/>
<circle cx="397.2" cy="550.3" r="2.55" fill="#fff" stroke="#1f3f7c" stroke-width="1.5"/>
<polyline points="316.5,552.2 336.8,468.1 356.9,512.5 377,538.9 397.2,542.9" fill="none" stroke="#a9002f" stroke-width="2.2" stroke-linejoin="round"/>
<path d="M336.8 447.8V488.3M334 447.8H339.6M334 488.3H339.6" class="eb"/>
<path d="M356.9 505.9V518.7M354.1 505.9H359.7M354.1 518.7H359.7" class="eb"/>
<path d="M397.2 539.6V546.2M394.4 539.6H400M394.4 546.2H400" class="eb"/>
<circle cx="316.5" cy="552.2" r="2.9" fill="#a9002f"/>
<circle cx="336.8" cy="468.1" r="2.9" fill="#a9002f"/>
<circle cx="356.9" cy="512.5" r="2.9" fill="#a9002f"/>
<circle cx="377" cy="538.9" r="2.9" fill="#a9002f"/>
<circle cx="397.2" cy="542.9" r="2.9" fill="#a9002f"/>
<polyline points="407.8,552.2 431.9,552.2 455.9,552.2" fill="none" stroke="#1f3f7c" stroke-width="2.2" stroke-linejoin="round"/>
<circle cx="431.9" cy="552.2" r="2.55" fill="#fff" stroke="#1f3f7c" stroke-width="1.5"/>
<circle cx="455.9" cy="552.2" r="2.55" fill="#fff" stroke="#1f3f7c" stroke-width="1.5"/>
<circle cx="407.8" cy="550.3" r="2.9" fill="#a9002f"/>
<polyline points="466.4,552.2 503.3,552.2" fill="none" stroke="#1f3f7c" stroke-width="2.2"/>
<circle cx="499" cy="552.2" r="2.55" fill="#fff" stroke="#1f3f7c" stroke-width="1.5"/>
<polygon points="334.6,440.1 335.16,441.44 336.6,441.55 335.5,442.49 335.83,443.9 334.6,443.14 333.37,443.9 333.7,442.49 332.6,441.55 334.04,441.44" fill="#1a1a1a"/>
<polygon points="338.8,440.1 339.36,441.44 340.8,441.55 339.7,442.49 340.03,443.9 338.8,443.14 337.57,443.9 337.9,442.49 336.8,441.55 338.24,441.44" fill="#1a1a1a"/>
<polygon points="364,537.9 364.56,539.24 366,539.35 364.9,540.29 365.23,541.7 364,540.95 362.77,541.7 363.1,540.29 362,539.35 363.44,539.24" fill="#1a1a1a"/>
</svg>
</body></html>
